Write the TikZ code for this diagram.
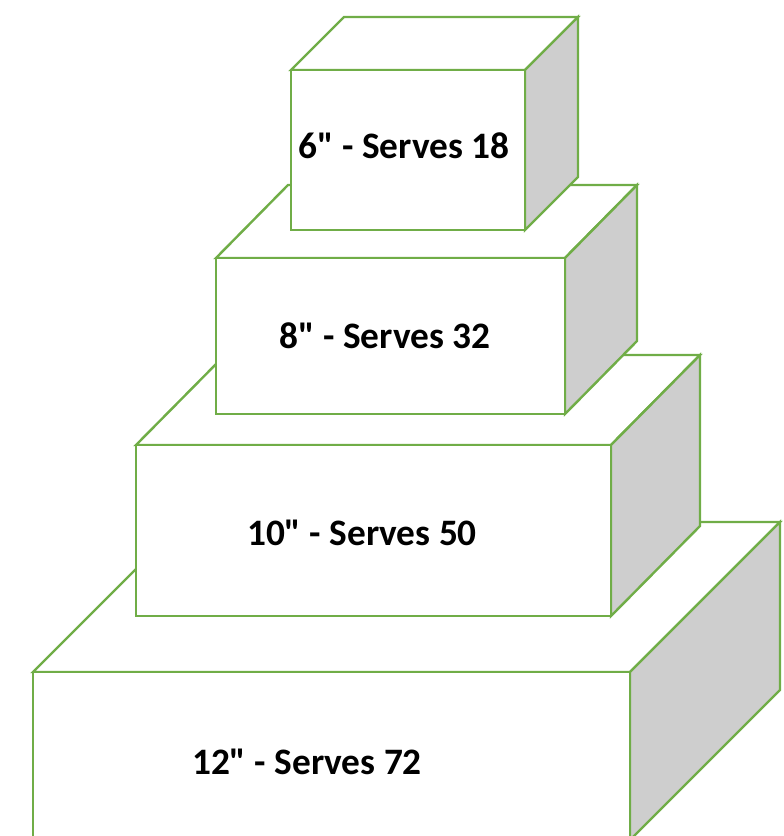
\documentclass[tikz,border=0pt]{standalone}
\usepackage{fontspec}
\setmainfont{Carlito}[Ligatures=TeXOff]
\definecolor{cakeline}{RGB}{112,173,71}
\definecolor{cakeside}{RGB}{206,206,206}
\tikzset{
  face/.style={draw=cakeline, line width=1.8pt, fill=white, line join=miter},
  side/.style={face, fill=cakeside},
  tierlabel/.style={font=\fontsize{28}{34}\selectfont\bfseries, inner sep=0pt}
}
\begin{document}
\begin{tikzpicture}[x=0.75pt, y=-0.75pt]
        \useasboundingbox (0,0) rectangle (783,836);
        \begin{scope}
        \clip (0,0) rectangle (783,836);

        % 12 inch tier
        \draw[face] (33,672) -- (183,522) -- (780,522) -- (630,672) -- cycle;
        \draw[side] (630,672) -- (780,522) -- (780,690) -- (630,840) -- cycle;
        \draw[face] (33,672) rectangle (630,840);
        \node[tierlabel] (twelve) at (307,762) {12" - Serves 72};

        % 10 inch tier
        \draw[face] (136,445) -- (225,355) -- (700,355) -- (611,445) -- cycle;
        \draw[side] (611,445) -- (700,355) -- (700,526) -- (611,616) -- cycle;
        \draw[face] (136,445) rectangle (611,616);
        \node[tierlabel] (ten) at (362,533) {10" - Serves 50};

        % 8 inch tier
        \draw[face] (216,258) -- (288,185) -- (637,185) -- (565,258) -- cycle;
        \draw[side] (565,258) -- (637,185) -- (637,341) -- (565,414) -- cycle;
        \draw[face] (216,258) rectangle (565,414);
        \node[tierlabel] (eight) at (385,336) {8" - Serves 32};

        % 6 inch tier
        \draw[face] (291,70) -- (344,17) -- (578,17) -- (525,70) -- cycle;
        \draw[side] (525,70) -- (578,17) -- (578,177) -- (525,230) -- cycle;
        \draw[face] (291,70) rectangle (525,230);
        \node[tierlabel] (six) at (404,146) {6" - Serves 18};
        \end{scope}
    \end{tikzpicture}
\end{document}
